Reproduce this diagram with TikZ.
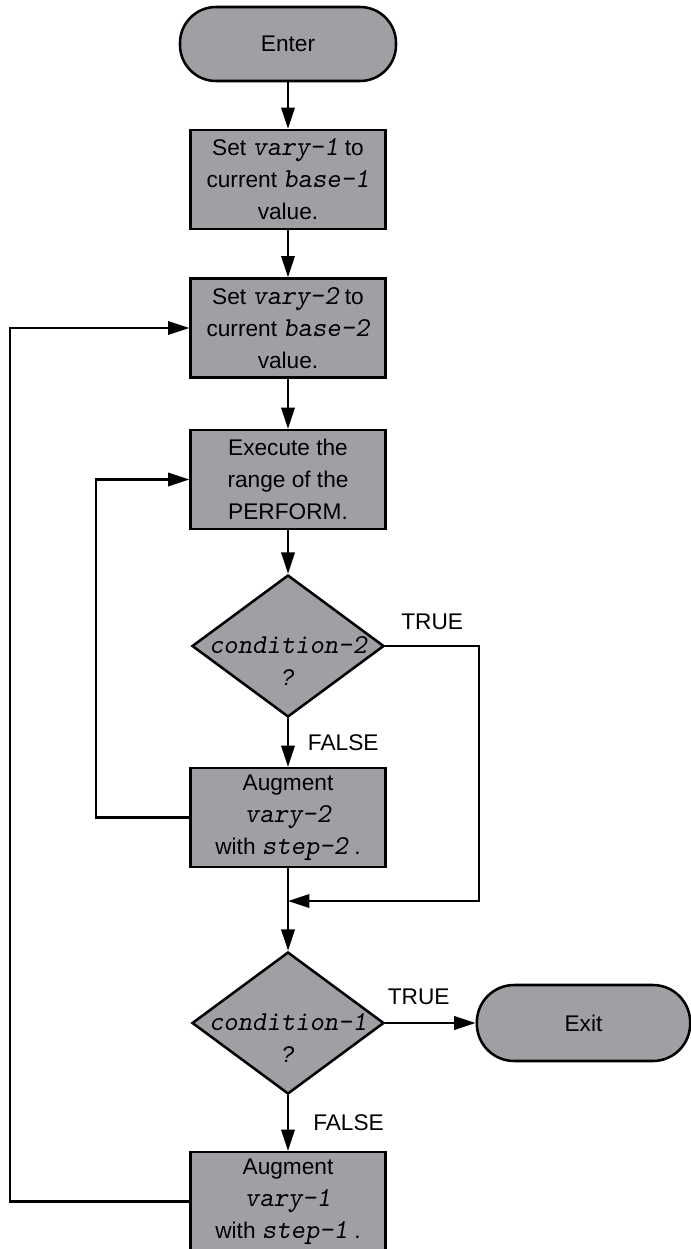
\documentclass[tikz,border=0pt]{standalone}
\usepackage{fontspec}
\setmainfont{Liberation Sans}
\usetikzlibrary{shapes.geometric,arrows.meta}
\definecolor{boxgray}{RGB}{160,159,164}
\newcommand{\code}[1]{{\ttfamily\slshape\fontsize{20.5}{24}\selectfont #1}}

\begin{document}
\begin{tikzpicture}[
  x=0.75pt, y=-0.75pt,
  font=\fontsize{17}{24}\selectfont,
  terminal/.style={draw, fill=boxgray, rounded corners=27pt, minimum width=162pt, minimum height=55.5pt, line width=1.9pt},
  procbox/.style={draw, fill=boxgray, align=center, minimum width=146pt, minimum height=74pt, inner sep=2pt, line width=1.9pt},
  decision/.style={draw, fill=boxgray, diamond, minimum width=144pt, minimum height=106.5pt, inner sep=0pt, line width=1.9pt},
  qtext/.style={align=center, inner sep=0pt},
  lbl/.style={inner sep=0pt},
  arrow/.style={-{Triangle[length=16pt,width=10pt]}, line width=1.9pt}
]
\useasboundingbox (0,0) rectangle (691,1249);

\node[terminal] (enter) at (288,44) {Enter};
\node[procbox] (set1) at (288,179.5) {Set \code{vary-1} to\\current \code{base-1}\\value.};
\node[procbox] (set2) at (288,328) {Set \code{vary-2} to\\current \code{base-2}\\value.};
\node[procbox] (exec) at (288,479.5) {Execute the\\range of the\\PERFORM.};

\node[decision] (cond2) at (288,646) {};
\node[qtext] (cond2q) at ([yshift=-11pt]cond2.center) {\code{condition-2}\\\textit{?}};
\node[procbox] (aug2) at (288,817.5) {Augment\\ \code{vary-2}\\with \code{step-2} .};
\coordinate (join) at (288,901);

\node[decision] (cond1) at (288,1023) {};
\node[qtext] (cond1q) at ([yshift=-11pt]cond1.center) {\code{condition-1}\\\textit{?}};
\node[terminal, minimum width=160pt, minimum height=57pt, rounded corners=28pt] (exit) at (583.5,1023) {Exit};
\node[procbox] (aug1) at (288,1201.5) {Augment\\ \code{vary-1}\\with \code{step-1} .};

\coordinate (tbend) at (479,646);
\coordinate (innerx) at (96,0);
\coordinate (outerx) at (10,0);

\draw[arrow] (enter) -- (set1);
\draw[arrow] (set1) -- (set2);
\draw[arrow] (set2) -- (exec);
\draw[arrow] (exec) -- (cond2);
\draw[arrow] (cond2) -- node[lbl, right=14pt] (false2) {FALSE} (aug2);
\draw[arrow] (cond2) -- node[lbl, above=11pt] (true2) {TRUE} (tbend) |- (join);
\draw[arrow] (aug2) -- (cond1);
\draw[arrow] (cond1) -- node[lbl, above=12.5pt, pos=0.37] (true1) {TRUE} (exit);
\draw[arrow] (cond1) -- node[lbl, right=18pt] (false1) {FALSE} (aug1);

\draw[arrow] (aug2.west) -- (aug2.west -| innerx) |- (exec.west);
\draw[arrow] (aug1.west) -- (aug1.west -| outerx) |- (set2.west);
\end{tikzpicture}
\end{document}
